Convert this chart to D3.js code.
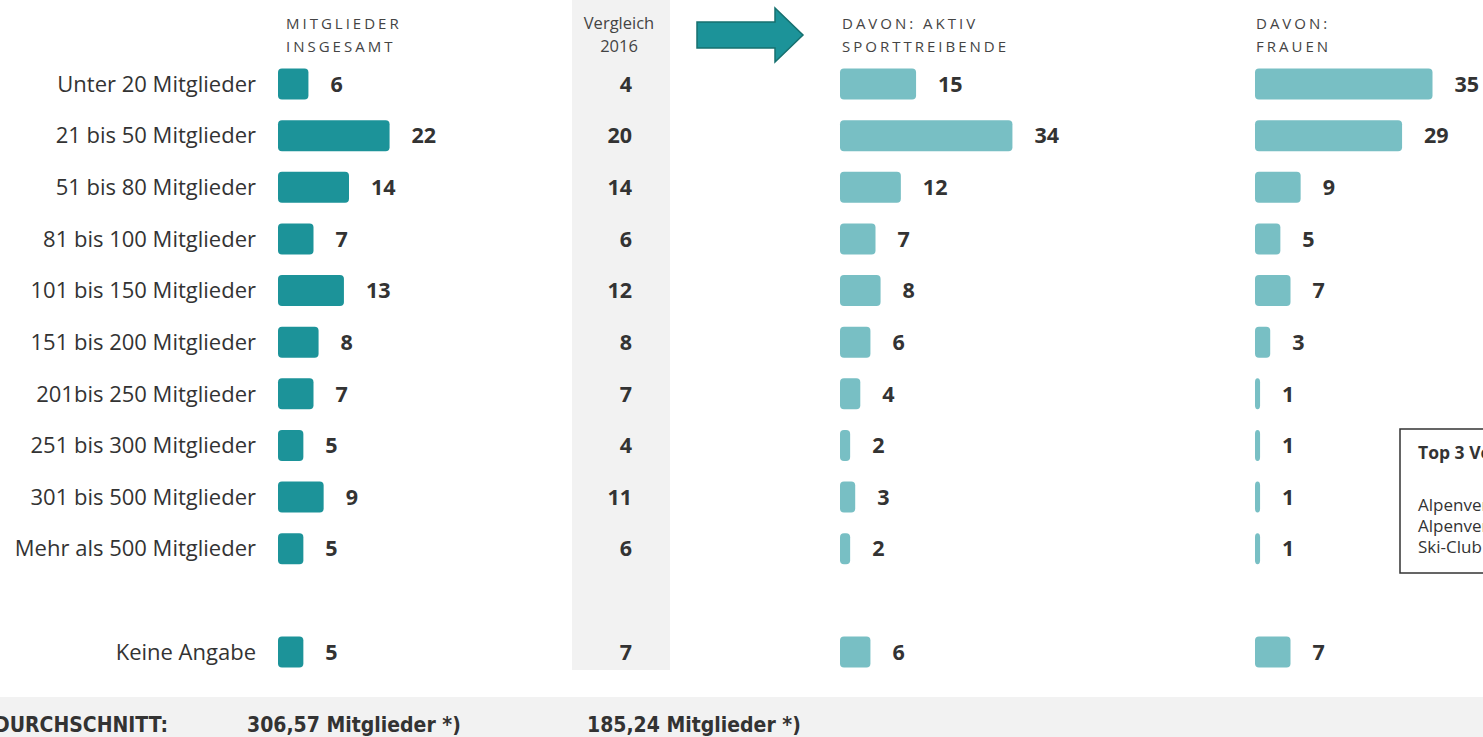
<!DOCTYPE html>
<html><head><meta charset="utf-8">
<script src="https://cdn.jsdelivr.net/npm/d3@7/dist/d3.min.js"></script>
<style>
html,body{margin:0;padding:0;background:#fff;overflow:hidden}
svg{display:block}
</style></head>
<body>
<script>
const categories = ["Unter 20 Mitglieder","21 bis 50 Mitglieder","51 bis 80 Mitglieder","81 bis 100 Mitglieder","101 bis 150 Mitglieder","151 bis 200 Mitglieder","201bis 250 Mitglieder","251 bis 300 Mitglieder","301 bis 500 Mitglieder","Mehr als 500 Mitglieder","Keine Angabe"];
const mitgliederGesamt = [6,22,14,7,13,8,7,5,9,5,5];
const vergleich2016 = [4,20,14,6,12,8,7,4,11,6,7];
const aktivSport = [15,34,12,7,8,6,4,2,3,2,6];
const frauen = [35,29,9,5,7,3,1,1,1,1,7];
const headers = [["MITGLIEDER","INSGESAMT"],["DAVON: AKTIV","SPORTTREIBENDE"],["DAVON:","FRAUEN"]];
const vergleichHeader = ["Vergleich","2016"];
const top3Title = "Top 3 Vereine:";
const top3Lines = ["Alpenverein Sektion","Alpenverein Sektion","Ski-Club"];
const durchschnittLabel = "DURCHSCHNITT:";
const durchschnittWerte = ["306,57 Mitglieder *)","185,24 Mitglieder *)"];

const W = 1483, H = 737;
const svg = d3.select("body").append("svg").attr("width", W).attr("height", H);
const FONT = "'Open Sans', 'Noto Sans', sans-serif";
const dark = "#1c9399", light = "#78bfc4", textCol = "#333";

// slot domain with a gap before "Keine Angabe"
const slots = categories.slice(0, 10).concat(["__gap__"], categories.slice(10));
const y = d3.scalePoint().domain(slots).range([84, 652]);
const x = d3.scaleLinear().domain([0, 35]).range([0, 177.5]);
const barH = 31;

// Vergleich background column
svg.append("rect").attr("x", 572).attr("y", 0).attr("width", 98).attr("height", 670).attr("fill", "#f2f2f2");
// bottom band
svg.append("rect").attr("x", 0).attr("y", 697).attr("width", W).attr("height", H - 697).attr("fill", "#f2f2f2");

// category labels
svg.append("g").selectAll("text").data(categories).join("text")
  .attr("x", 256).attr("y", d => y(d)).attr("dy", "0.35em")
  .attr("text-anchor", "end").attr("font-family", FONT).attr("font-size", 22)
  .attr("fill", textCol).text(d => d);

function panel(x0, values, color) {
  const g = svg.append("g").attr("transform", `translate(${x0},0)`);
  const data = categories.map((c, i) => ({c, v: values[i]}));
  g.selectAll("rect").data(data).join("rect")
    .attr("x", 0).attr("y", d => y(d.c) - barH / 2)
    .attr("width", d => x(d.v)).attr("height", barH)
    .attr("rx", 4).attr("fill", color);
  g.selectAll("text").data(data).join("text")
    .attr("x", d => x(d.v) + 22).attr("y", d => y(d.c)).attr("dy", "0.36em")
    .attr("font-family", FONT).attr("font-weight", 700).attr("font-size", 21.5)
    .attr("fill", textCol).text(d => d.v);
}
panel(278, mitgliederGesamt, dark);
panel(840, aktivSport, light);
panel(1255, frauen, light);

// Vergleich values
svg.append("g").selectAll("text").data(categories.map((c, i) => ({c, v: vergleich2016[i]}))).join("text")
  .attr("x", 632).attr("y", d => y(d.c)).attr("dy", "0.36em").attr("text-anchor", "end")
  .attr("font-family", FONT).attr("font-weight", 700).attr("font-size", 21.5)
  .attr("fill", textCol).text(d => d.v);

// headers
const hx = [286, 842, 1256];
headers.forEach((lines, i) => {
  lines.forEach((t, j) => {
    svg.append("text").attr("x", hx[i]).attr("y", 29 + j * 23)
      .attr("font-family", FONT).attr("font-size", 15).attr("letter-spacing", "3px")
      .attr("fill", "#444").text(t);
  });
});
vergleichHeader.forEach((t, j) => {
  svg.append("text").attr("x", 619).attr("y", 29 + j * 23).attr("text-anchor", "middle")
    .attr("font-family", FONT).attr("font-size", 16.5).attr("fill", "#444").text(t);
});

// arrow
const arrowPath = d3.path();
arrowPath.moveTo(697, 22); arrowPath.lineTo(775, 22); arrowPath.lineTo(775, 8);
arrowPath.lineTo(803, 35); arrowPath.lineTo(775, 62); arrowPath.lineTo(775, 48);
arrowPath.lineTo(697, 48); arrowPath.closePath();
svg.append("path").attr("d", arrowPath.toString()).attr("fill", "#1c9399")
  .attr("stroke", "#16706f").attr("stroke-width", 1.5);

// top 3 box
svg.append("rect").attr("x", 1400).attr("y", 429).attr("width", 120).attr("height", 144)
  .attr("fill", "#fff").attr("stroke", "#333").attr("stroke-width", 1.5);
svg.append("text").attr("x", 1418).attr("y", 459).attr("font-family", FONT)
  .attr("font-weight", 700).attr("font-size", 17.5).attr("fill", textCol).text(top3Title);
top3Lines.forEach((t, j) => {
  svg.append("text").attr("x", 1418).attr("y", 511 + j * 21).attr("font-family", FONT)
    .attr("font-size", 17).attr("fill", textCol).text(t);
});

// bottom text
const CFONT = "'Liberation Sans Narrow', 'DejaVu Sans Condensed', sans-serif";
svg.append("text").attr("x", -6).attr("y", 732).attr("font-family", CFONT)
  .attr("font-weight", 700).attr("font-size", 21).attr("fill", textCol).text(durchschnittLabel);
[247, 587].forEach((xx, i) => {
  svg.append("text").attr("x", xx).attr("y", 732).attr("font-family", CFONT)
    .attr("font-weight", 700).attr("font-size", 21).attr("fill", textCol).text(durchschnittWerte[i]);
});
</script>
</body></html>
